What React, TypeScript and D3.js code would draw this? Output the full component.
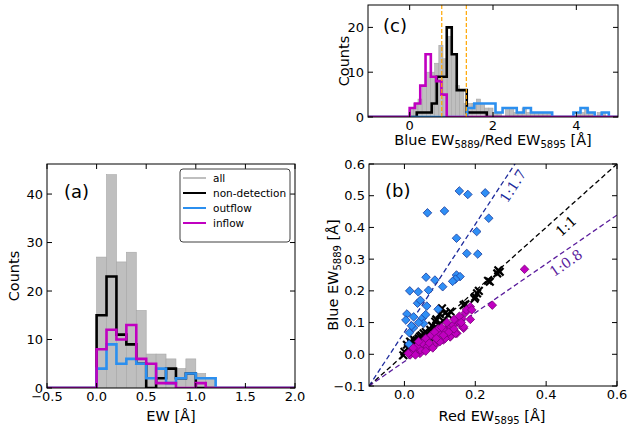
import React from 'react';
import * as d3 from 'd3';

// ---------- Panel (a): EW histograms ----------
const edgesA = [0.0, 0.1, 0.2, 0.3, 0.4, 0.5, 0.6, 0.7, 0.8, 0.9, 1.0, 1.1, 1.2];
const allA = [27, 44, 26, 28, 16, 7, 7, 6, 4, 6, 3, 2];
const nondetA = [15, 23, 11, 9, 5, 0, 2, 4, 2, 3, 0, 0];
const outflowA = [4, 9, 5, 6, 5, 2, 4, 1, 2, 3, 2, 2];
const inflowA = [8, 12, 10, 13, 6, 5, 1, 1, 0, 0, 1, 0];
const xTicksA = [-0.5, 0.0, 0.5, 1.0, 1.5, 2.0];
const yTicksA = [0, 10, 20, 30, 40];

// ---------- Panel (c): ratio histograms ----------
const allCEdges = [0.0, 0.1, 0.2, 0.3, 0.4, 0.5, 0.6, 0.7, 0.8, 0.9, 1.0, 1.1, 1.2, 1.3, 1.4, 1.5, 1.6, 1.7, 1.8, 1.9, 2.0, 2.1, 2.2, 2.3, 2.4, 2.5, 2.6, 2.7, 2.8, 2.9, 3.0, 3.1, 3.2, 3.3, 3.4, 3.5, 3.6, 3.7, 3.8, 3.9, 4.0, 4.1, 4.2, 4.3, 4.4, 4.5, 4.6, 4.7];
const allC = [2, 3, 4, 7, 10, 10, 12, 16, 13, 18, 14, 7, 6, 3, 3, 3, 4, 3, 2, 2, 1, 1, 0, 2, 2, 1, 1, 2, 1, 1, 1, 1, 1, 1, 0, 0, 0, 0, 0, 0, 1, 1, 2, 1, 0, 1, 1];
const nondetCEdges = [0.17, 0.29, 0.41, 0.53, 0.65, 0.77, 0.89, 1.01, 1.13, 1.25, 1.37, 1.49, 1.61, 1.73, 1.85];
const nondetC = [1, 1, 1, 3, 9, 9, 20, 14, 6, 6, 1, 1, 1, 1];
const outflowCEdges = [1.38, 1.55, 1.72, 1.89, 2.06, 2.23, 2.40, 2.57, 2.74, 2.91, 3.08, 3.25, 3.42, 3.59, 3.76, 3.93, 4.10, 4.27, 4.44, 4.61, 4.78];
const outflowC = [2, 3, 3, 3, 1, 2, 2, 1, 2, 1, 1, 1, 0, 0, 0, 1, 2, 1, 0, 1];
const inflowCEdges = [0.0, 0.127, 0.254, 0.381, 0.508, 0.635, 0.762, 0.889];
const inflowC = [2, 3, 7, 14, 9, 8, 5];
const ratioCuts = [0.77, 1.36];
const xTicksC = [0, 2, 4];
const yTicksC = [0, 10, 20];

// ---------- Panel (b): scatter (Red EW5895, Blue EW5889) ----------
const outflowPts: [number, number][] = [
  [0.155, 0.515], [0.179, 0.504], [0.228, 0.509], [0.065, 0.446], [0.113, 0.452], [0.238, 0.429],
  [0.204, 0.387], [0.147, 0.366], [0.176, 0.318], [0.207, 0.316], [0.061, 0.243], [0.086, 0.234],
  [0.147, 0.25], [0.157, 0.245], [0.144, 0.237], [0.136, 0.23], [0.108, 0.213], [0.015, 0.2],
  [0.039, 0.197], [0.068, 0.202], [0.037, 0.161], [0.063, 0.152], [0.007, 0.127], [0.004, 0.108],
  [0.026, 0.118], [0.05, 0.113], [0.054, 0.097], [0.026, 0.084], [0.014, 0.068], [0.013, 0.032],
  [0.095, 0.142], [0.045, 0.17], [0.02, 0.09], [0.06, 0.125], [0.04, 0.1],
];
const nondetPts: [number, number][] = [
  [0.269, 0.26], [0.262, 0.255], [0.265, 0.265], [0.241, 0.229], [0.236, 0.232], [0.205, 0.192],
  [0.2, 0.181], [0.21, 0.2], [0.198, 0.175], [0.167, 0.155], [0.172, 0.158], [0.13, 0.135],
  [0.106, 0.145], [0.124, 0.124], [0.1, 0.127], [0.115, 0.13], [0.087, 0.103], [0.09, 0.11],
  [0.073, 0.077], [0.078, 0.09], [0.054, 0.066], [0.06, 0.07], [0.044, 0.056], [0.048, 0.06],
  [0.035, 0.045], [0.04, 0.05], [0.026, 0.047], [0.03, 0.04], [0.016, 0.04], [0.02, 0.035],
  [0.007, 0.03], [0.01, 0.02], [0.0, 0.008], [-0.003, -0.003], [0.063, 0.045], [0.082, 0.06],
  [0.07, 0.055], [0.05, 0.04], [0.055, 0.05], [0.065, 0.06], [0.075, 0.07], [0.085, 0.08],
  [0.045, 0.045], [0.038, 0.035], [0.025, 0.03], [0.09, 0.085], [0.1, 0.095], [0.11, 0.105],
];
const inflowPts: [number, number][] = [
  [0.339, 0.268], [0.248, 0.155], [0.186, 0.15], [0.172, 0.131], [0.186, 0.11], [0.162, 0.113],
  [0.158, 0.093], [0.167, 0.082], [0.148, 0.103], [0.13, 0.087], [0.115, 0.077], [0.1, 0.066],
  [0.082, 0.056], [0.063, 0.045], [0.044, 0.03], [0.03, 0.019], [0.02, 0.008], [0.016, -0.002],
  [0.054, 0.014], [0.073, 0.024], [0.092, 0.035], [0.11, 0.045], [0.13, 0.056], [0.148, 0.066],
  [0.167, 0.087], [0.044, 0.003], [0.144, 0.066], [0.129, 0.055], [0.115, 0.05], [0.1, 0.04],
  [0.082, 0.03], [0.064, 0.024], [0.045, 0.014], [0.027, 0.008], [0.031, -0.002], [0.137, 0.092],
  [0.113, 0.075], [0.12, 0.1], [0.14, 0.11], [0.095, 0.08], [0.075, 0.06], [0.06, 0.05],
  [0.05, 0.035], [0.035, 0.025], [0.085, 0.07], [0.105, 0.085], [0.125, 0.07], [0.155, 0.12],
  [0.175, 0.14], [0.16, 0.1], [0.07, 0.035], [0.09, 0.05], [0.11, 0.06], [0.14, 0.08],
  [0.06, 0.01], [0.08, 0.02], [0.025, 0.02], [0.04, 0.04], [0.19, 0.14], [0.011, 0.003],
];
const slopes = [1.7, 1.0, 0.77];
const slopeLabels = ['1:1.7', '1:1', '1:0.8'];
const xTicksB = [0.0, 0.2, 0.4, 0.6];
const yTicksB = [-0.1, 0.0, 0.1, 0.2, 0.3, 0.4, 0.5, 0.6];

const legendNames = ['all', 'non-detection', 'outflow', 'inflow'];

const C_ALL = '#bfbfbf';
const C_NON = '#000000';
const C_OUT = '#2b8fef';
const C_IN = '#c000c0';
const FONT = 'DejaVu Sans, sans-serif';
const TICK = 5;
const TICK_FS = 13;
const LABEL_FS = 14.5;
const SUB_FS = 10;

const fmtMinus = (s: string) => s.replace('-', '\u2212');

function stepPath(edges: number[], counts: number[], x: any, y: any, dmin: number, dmax: number) {
  const p = d3.path();
  p.moveTo(x(dmin), y(0));
  p.lineTo(x(edges[0]), y(0));
  counts.forEach((c, i) => {
    p.lineTo(x(edges[i]), y(c));
    p.lineTo(x(edges[i + 1]), y(c));
  });
  p.lineTo(x(edges[edges.length - 1]), y(0));
  p.lineTo(x(dmax), y(0));
  return p.toString();
}

function Frame({ x, y, xt, yt, xf, yf }: any) {
  const [x0, x1] = x.range();
  const [y0, y1] = y.range();
  return (
    <g>
      <rect x={x0} y={y1} width={x1 - x0} height={y0 - y1} fill="none" stroke="#000" strokeWidth={1} />
      {xt.map((t: number) => (
        <g key={'x' + t}>
          <line x1={x(t)} x2={x(t)} y1={y0} y2={y0 - TICK} stroke="#000" />
          <line x1={x(t)} x2={x(t)} y1={y1} y2={y1 + TICK} stroke="#000" />
          <text x={x(t)} y={y0 + 13} textAnchor="middle" fontSize={TICK_FS} fontFamily={FONT}>{fmtMinus(xf(t))}</text>
        </g>
      ))}
      {yt.map((t: number) => (
        <g key={'y' + t}>
          <line x1={x0} x2={x0 + TICK} y1={y(t)} y2={y(t)} stroke="#000" />
          <line x1={x1} x2={x1 - TICK} y1={y(t)} y2={y(t)} stroke="#000" />
          <text x={x0 - 4} y={y(t)} dy="0.35em" textAnchor="end" fontSize={TICK_FS} fontFamily={FONT}>{fmtMinus(yf(t))}</text>
        </g>
      ))}
    </g>
  );
}

function Diamond({ cx, cy, fill, stroke }: any) {
  const r = 4.3;
  return <path d={`M${cx},${cy - r}L${cx + r},${cy}L${cx},${cy + r}L${cx - r},${cy}Z`} fill={fill} stroke={stroke} strokeWidth={0.8} />;
}

function Cross({ cx, cy }: any) {
  const r = 3.8;
  return (
    <g stroke="#000" strokeWidth={2.2}>
      <line x1={cx - r} y1={cy - r} x2={cx + r} y2={cy + r} />
      <line x1={cx - r} y1={cy + r} x2={cx + r} y2={cy - r} />
    </g>
  );
}

export default function App() {
  // Panel (a)
  const xA = d3.scaleLinear().domain([-0.5, 2.0]).range([47, 295]);
  const yA = d3.scaleLinear().domain([0, 46.2]).range([388, 164]);
  // Panel (b)
  const xB = d3.scaleLinear().domain([-0.1, 0.6]).range([369, 617]);
  const yB = d3.scaleLinear().domain([-0.1, 0.6]).range([386, 164]);
  // Panel (c)
  const xC = d3.scaleLinear().domain([-1, 5]).range([368, 618]);
  const yC = d3.scaleLinear().domain([0, 25]).range([117, 5]);

  const lineColorsB = ['#1c2a9c', '#000000', '#5a1c9c'];
  const labelPos: [number, number, number][] = [[513, 186, -57], [566, 226, -42], [566, 263, -35]];

  const legendColors = [C_ALL, C_NON, C_OUT, C_IN];

  return (
    <svg width={630} height={429} style={{ position: 'absolute', left: 0, top: 0, background: '#fff' }} fontFamily={FONT}>
      <defs>
        <clipPath id="clipA"><rect x={47} y={164} width={248} height={224} /></clipPath>
        <clipPath id="clipB"><rect x={369} y={164} width={248} height={222} /></clipPath>
        <clipPath id="clipC"><rect x={368} y={5} width={250} height={112} /></clipPath>
      </defs>

      {/* ---------------- Panel (a) ---------------- */}
      <g clipPath="url(#clipA)">
        {allA.map((c, i) => (
          <rect key={i} x={xA(edgesA[i])} y={yA(c)} width={xA(edgesA[i + 1]) - xA(edgesA[i])} height={yA(0) - yA(c)}
            fill={C_ALL} stroke="#a6a6a6" strokeWidth={0.6} />
        ))}
        <path d={stepPath(edgesA, nondetA, xA, yA, -0.5, 2.0)} fill="none" stroke={C_NON} strokeWidth={2.6} />
        <path d={stepPath(edgesA, outflowA, xA, yA, -0.5, 2.0)} fill="none" stroke={C_OUT} strokeWidth={2.6} />
        <path d={stepPath(edgesA, inflowA, xA, yA, -0.5, 2.0)} fill="none" stroke={C_IN} strokeWidth={2.6} />
      </g>
      <Frame x={xA} y={yA} xt={xTicksA} yt={yTicksA} xf={d3.format('.1f')} yf={d3.format('d')} />
      <text x={64} y={198} fontSize={18} fontFamily={FONT}>(a)</text>
      <text x={171} y={421} textAnchor="middle" fontSize={LABEL_FS}>EW [Å]</text>
      <text transform="translate(19,276) rotate(-90)" textAnchor="middle" fontSize={LABEL_FS}>Counts</text>
      {/* legend */}
      <rect x={180} y={169} width={110} height={73} rx={3} fill="#fff" stroke="#404040" strokeWidth={1} />
      {legendNames.map((n, i) => (
        <g key={n}>
          <line x1={183} x2={206} y1={178 + i * 15} y2={178 + i * 15} stroke={legendColors[i]} strokeWidth={2} />
          <text x={213} y={178 + i * 15} dy="0.35em" fontSize={10.5}>{n}</text>
        </g>
      ))}

      {/* ---------------- Panel (b) ---------------- */}
      <g clipPath="url(#clipB)">
        {slopes.map((s, i) => (
          <line key={s} x1={xB(-0.1)} y1={yB(-0.1)} x2={xB(0.6)} y2={yB(-0.1 + s * 0.7)}
            stroke={lineColorsB[i]} strokeWidth={1.3} strokeDasharray="5,3" />
        ))}
        {nondetPts.map(([a, b], i) => <Cross key={'n' + i} cx={xB(a)} cy={yB(b)} />)}
        {outflowPts.map(([a, b], i) => <Diamond key={'o' + i} cx={xB(a)} cy={yB(b)} fill="#2f8ff5" stroke="#1a3a9a" />)}
        {inflowPts.map(([a, b], i) => <Diamond key={'i' + i} cx={xB(a)} cy={yB(b)} fill="#c000c0" stroke="#7a007a" />)}
      </g>
      {slopeLabels.map((l, i) => (
        <text key={l} transform={`translate(${labelPos[i][0]},${labelPos[i][1]}) rotate(${labelPos[i][2]})`}
          textAnchor="middle" dy="0.35em" fontSize={14} fontFamily="DejaVu Serif, serif" fill={lineColorsB[i]}>{l}</text>
      ))}
      <Frame x={xB} y={yB} xt={xTicksB} yt={yTicksB} xf={d3.format('.1f')} yf={d3.format('.1f')} />
      <text x={385} y={197} fontSize={18}>(b)</text>
      <text x={492} y={421} textAnchor="middle" fontSize={LABEL_FS}>Red EW<tspan fontSize={SUB_FS} dy={3}>5895</tspan><tspan dy={-3}> [Å]</tspan></text>
      <text transform="translate(338,275) rotate(-90)" textAnchor="middle" fontSize={LABEL_FS}>Blue EW<tspan fontSize={SUB_FS} dy={3}>5889</tspan><tspan dy={-3}> [Å]</tspan></text>

      {/* ---------------- Panel (c) ---------------- */}
      <g clipPath="url(#clipC)">
        {allC.map((c, i) => c > 0 ? (
          <rect key={i} x={xC(allCEdges[i])} y={yC(c)} width={xC(allCEdges[i + 1]) - xC(allCEdges[i])} height={yC(0) - yC(c)}
            fill={C_ALL} stroke="#a6a6a6" strokeWidth={0.6} />
        ) : null)}
        <path d={stepPath(nondetCEdges, nondetC, xC, yC, -1, 5)} fill="none" stroke={C_NON} strokeWidth={2.6} />
        <path d={stepPath(outflowCEdges, outflowC, xC, yC, -1, 5)} fill="none" stroke={C_OUT} strokeWidth={2.6} />
        <path d={stepPath(inflowCEdges, inflowC, xC, yC, -1, 5)} fill="none" stroke={C_IN} strokeWidth={2.6} />
        {ratioCuts.map((r) => (
          <line key={r} x1={xC(r)} x2={xC(r)} y1={yC(0)} y2={yC(25)} stroke="#ffa500" strokeWidth={1.2} strokeDasharray="4,2" />
        ))}
      </g>
      <Frame x={xC} y={yC} xt={xTicksC} yt={yTicksC} xf={d3.format('d')} yf={d3.format('d')} />
      <text x={383} y={32} fontSize={18}>(c)</text>
      <text x={493} y={145} textAnchor="middle" fontSize={LABEL_FS}>Blue EW<tspan fontSize={SUB_FS} dy={3}>5889</tspan><tspan dy={-3}>/Red EW</tspan><tspan fontSize={SUB_FS} dy={3}>5895</tspan><tspan dy={-3}> [Å]</tspan></text>
      <text transform="translate(349,61) rotate(-90)" textAnchor="middle" fontSize={LABEL_FS}>Counts</text>
    </svg>
  );
}
